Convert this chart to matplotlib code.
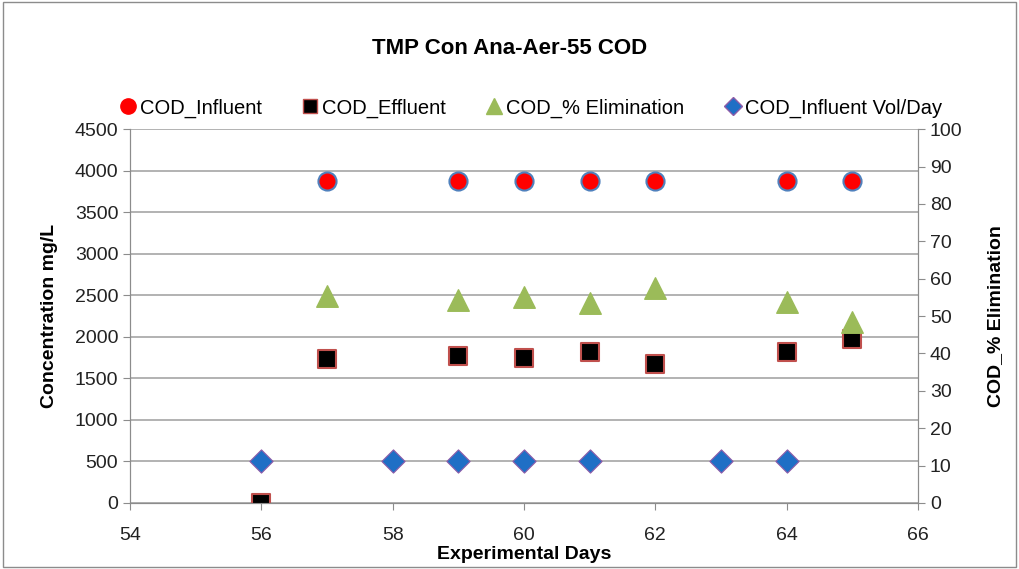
import matplotlib
matplotlib.use('Agg')
import matplotlib.pyplot as plt
from matplotlib.lines import Line2D

plt.rcParams['font.family'] = ['Liberation Sans', 'DejaVu Sans']

# data
inf_days = [57, 59, 60, 61, 62, 64, 65]
inf_cod = [3880, 3880, 3880, 3880, 3880, 3880, 3880]

eff_days = [56, 57, 59, 60, 61, 62, 64, 65]
eff_cod = [0, 1730, 1770, 1745, 1815, 1670, 1815, 1975]

elim_days = [57, 59, 60, 61, 62, 64, 65]
elim_pct = [55.3, 54.4, 55.2, 53.4, 57.4, 53.7, 48.5]

vol_days = [56, 58, 59, 60, 61, 63, 64]
vol_val = [500, 500, 500, 500, 500, 500, 500]

xticks = [54, 56, 58, 60, 62, 64, 66]

fig = plt.figure(figsize=(10.19, 5.69), dpi=100)
ax = fig.add_axes([0.1276, 0.116, 0.7733, 0.657])
ax2 = ax.twinx()

grid_c = '#a6a6a6'
ax.set_xlim(54, 66)
ax.set_ylim(0, 4500)
ax.set_yticks(range(0, 4501, 500))
ax.set_xticks(xticks)
ax2.set_ylim(0, 100)
ax2.set_yticks(range(0, 101, 10))
ax.yaxis.grid(True, color=grid_c, lw=1.2)
ax.set_axisbelow(True)

for a in (ax, ax2):
    a.spines['top'].set_visible(False)
    for s in ('left', 'right', 'bottom'):
        a.spines[s].set_color('#8c8c8c')
    a.tick_params(colors='#8c8c8c', labelcolor='#222222', labelsize=14, length=5)
ax.tick_params(axis='x', pad=12)

ax.scatter(vol_days, vol_val, marker='D', s=140, c='#1f6fc5', edgecolors='#8e5ca8', lw=0.8, zorder=3)
ax.scatter(eff_days, eff_cod, marker='s', s=150, c='black', edgecolors='#c0504d', lw=1.5, zorder=3)
ax.scatter(inf_days, inf_cod, marker='o', s=170, c='#ff0000', edgecolors='#4f81bd', lw=1.5, zorder=3)
ax2.scatter(elim_days, elim_pct, marker='^', s=240, c='#9bbb59', edgecolors='#9bbb59', zorder=3)

ax.set_xlabel('Experimental Days', fontsize=14, fontweight='bold', labelpad=2)
ax.set_ylabel('Concentration mg/L', fontsize=14, fontweight='bold', labelpad=12)
ax2.set_ylabel('COD_% Elimination', fontsize=14, fontweight='bold', labelpad=18)
fig.text(0.5, 0.915, 'TMP Con Ana-Aer-55 COD', ha='center', va='center', fontsize=16, fontweight='bold')

handles = [
    Line2D([], [], ls='', marker='o', ms=11, mfc='#ff0000', mec='#ff0000'),
    Line2D([], [], ls='', marker='s', ms=10, mfc='black', mec='#c0504d'),
    Line2D([], [], ls='', marker='^', ms=12, mfc='#9bbb59', mec='#9bbb59'),
    Line2D([], [], ls='', marker='D', ms=9, mfc='#1f6fc5', mec='#8e5ca8'),
]
labels = ['COD_Influent', 'COD_Effluent', 'COD_% Elimination', 'COD_Influent Vol/Day']
fig.legend(handles, labels, loc='center', bbox_to_anchor=(0.52, 0.81), ncol=4, frameon=False,
           fontsize=14.5, handletextpad=0.1, columnspacing=1.9, handlelength=1.0)

fig.patches.append(plt.Rectangle((0.003, 0.003), 0.994, 0.994, transform=fig.transFigure,
                                 fill=False, ec='#8c8c8c', lw=1))

fig.savefig('out.png', dpi=100)
